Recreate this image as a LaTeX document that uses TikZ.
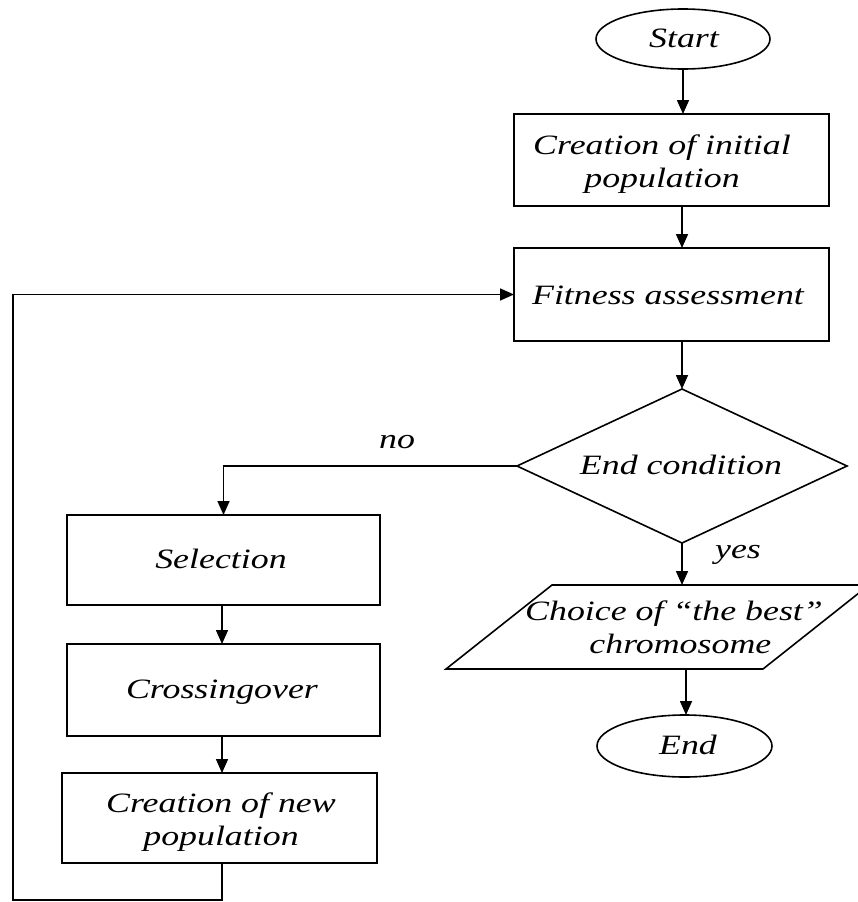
\documentclass[tikz,border=0pt]{standalone}
\usepackage{fontspec}
\usepackage{graphicx}
\setmainfont{Liberation Serif}
\usetikzlibrary{shapes.geometric,arrows.meta}

% widened italic text, one or more centred lines
\newcommand{\widetxt}[1]{\scalebox{1.28}[1]{\begin{tabular}{@{}c@{}}#1\end{tabular}}}

\tikzset{
  base/.style={draw=black, line width=1.6pt, inner sep=0pt, outer sep=0pt,
    font=\fontsize{28}{33}\selectfont\itshape},
  procbox/.style={base, rectangle},
  termbox/.style={base, ellipse},
  decbox/.style={base, diamond, aspect=2.14},
  txt/.style={inner sep=0pt, font=\fontsize{28}{33}\selectfont\itshape},
  arr/.style={line width=1.6pt, -{Triangle[length=14pt,width=12pt]}},
  ln/.style={line width=1.6pt}
}

\begin{document}
\begin{tikzpicture}[x=1pt,y=-1pt]
\useasboundingbox (0,0) rectangle (858,902);

% main column
\node[termbox, minimum width=174pt, minimum height=60pt] (start) at (683,39) {};
\node[txt] at (684,41) {\widetxt{Start}};
\node[procbox, minimum width=315pt, minimum height=92pt] (init) at (671.5,160) {};
\node[txt] at (662,164) {\widetxt{Creation of initial\\population}};
\node[procbox, minimum width=315pt, minimum height=93pt] (fit) at (671.5,294.5) {};
\node[txt] at (668,298) {\widetxt{Fitness assessment}};
\node[decbox, minimum width=330pt, minimum height=154pt] (cond) at (682,466) {};
\node[txt] at (681,468) {\widetxt{End condition}};

% output step
\coordinate (p1) at (552,585);
\coordinate (p2) at (869,585);
\coordinate (p3) at (763,669);
\coordinate (p4) at (446,669);
\draw[ln, line join=miter] (p1) -- (p2) -- (p3) -- (p4) -- cycle;
\node[txt] (best) at (674,630) {\widetxt{Choice of “the best”\\\hspace*{10pt}chromosome}};
\coordinate (besttop) at (682,585);
\coordinate (bestbot) at (686,669);
\node[termbox, minimum width=175pt, minimum height=62pt] (end) at (684.5,746) {};
\node[txt] at (688,748) {\widetxt{End}};

% genetic loop
\node[procbox, minimum width=313pt, minimum height=90pt] (sel) at (223.5,560) {};
\node[txt] at (221,562) {\widetxt{Selection}};
\node[procbox, minimum width=313pt, minimum height=92pt] (cross) at (223.5,690) {};
\node[txt] at (222,692) {\widetxt{Crossingover}};
\node[procbox, minimum width=315pt, minimum height=90pt] (newpop) at (219.5,818) {};
\node[txt] at (221,822) {\widetxt{Creation of new\\population}};
\coordinate (lx) at (222,0);
\coordinate (lb) at (13,900);

% connectors
\draw[arr] (start.south) -- (start.south |- init.north);
\draw[arr] (init.south -| cond.north) -- (fit.north -| cond.north);
\draw[arr] (fit.south -| cond.north) -- (cond.north);
\draw[arr] (cond.west) -| (sel.north);
\draw[arr] (cond.south) -- (besttop);
\draw[arr] (bestbot) -- (bestbot |- end.north);
\draw[arr] (sel.south -| lx) -- (cross.north -| lx);
\draw[arr] (cross.south -| lx) -- (newpop.north -| lx);
\draw[arr] (newpop.south -| lx) |- (lb) |- (fit.west);

% branch labels
\node[txt] (nolab) at (397,442) {\widetxt{no}};
\node[txt] (yeslab) at (738,552) {\widetxt{yes}};
\end{tikzpicture}
\end{document}
